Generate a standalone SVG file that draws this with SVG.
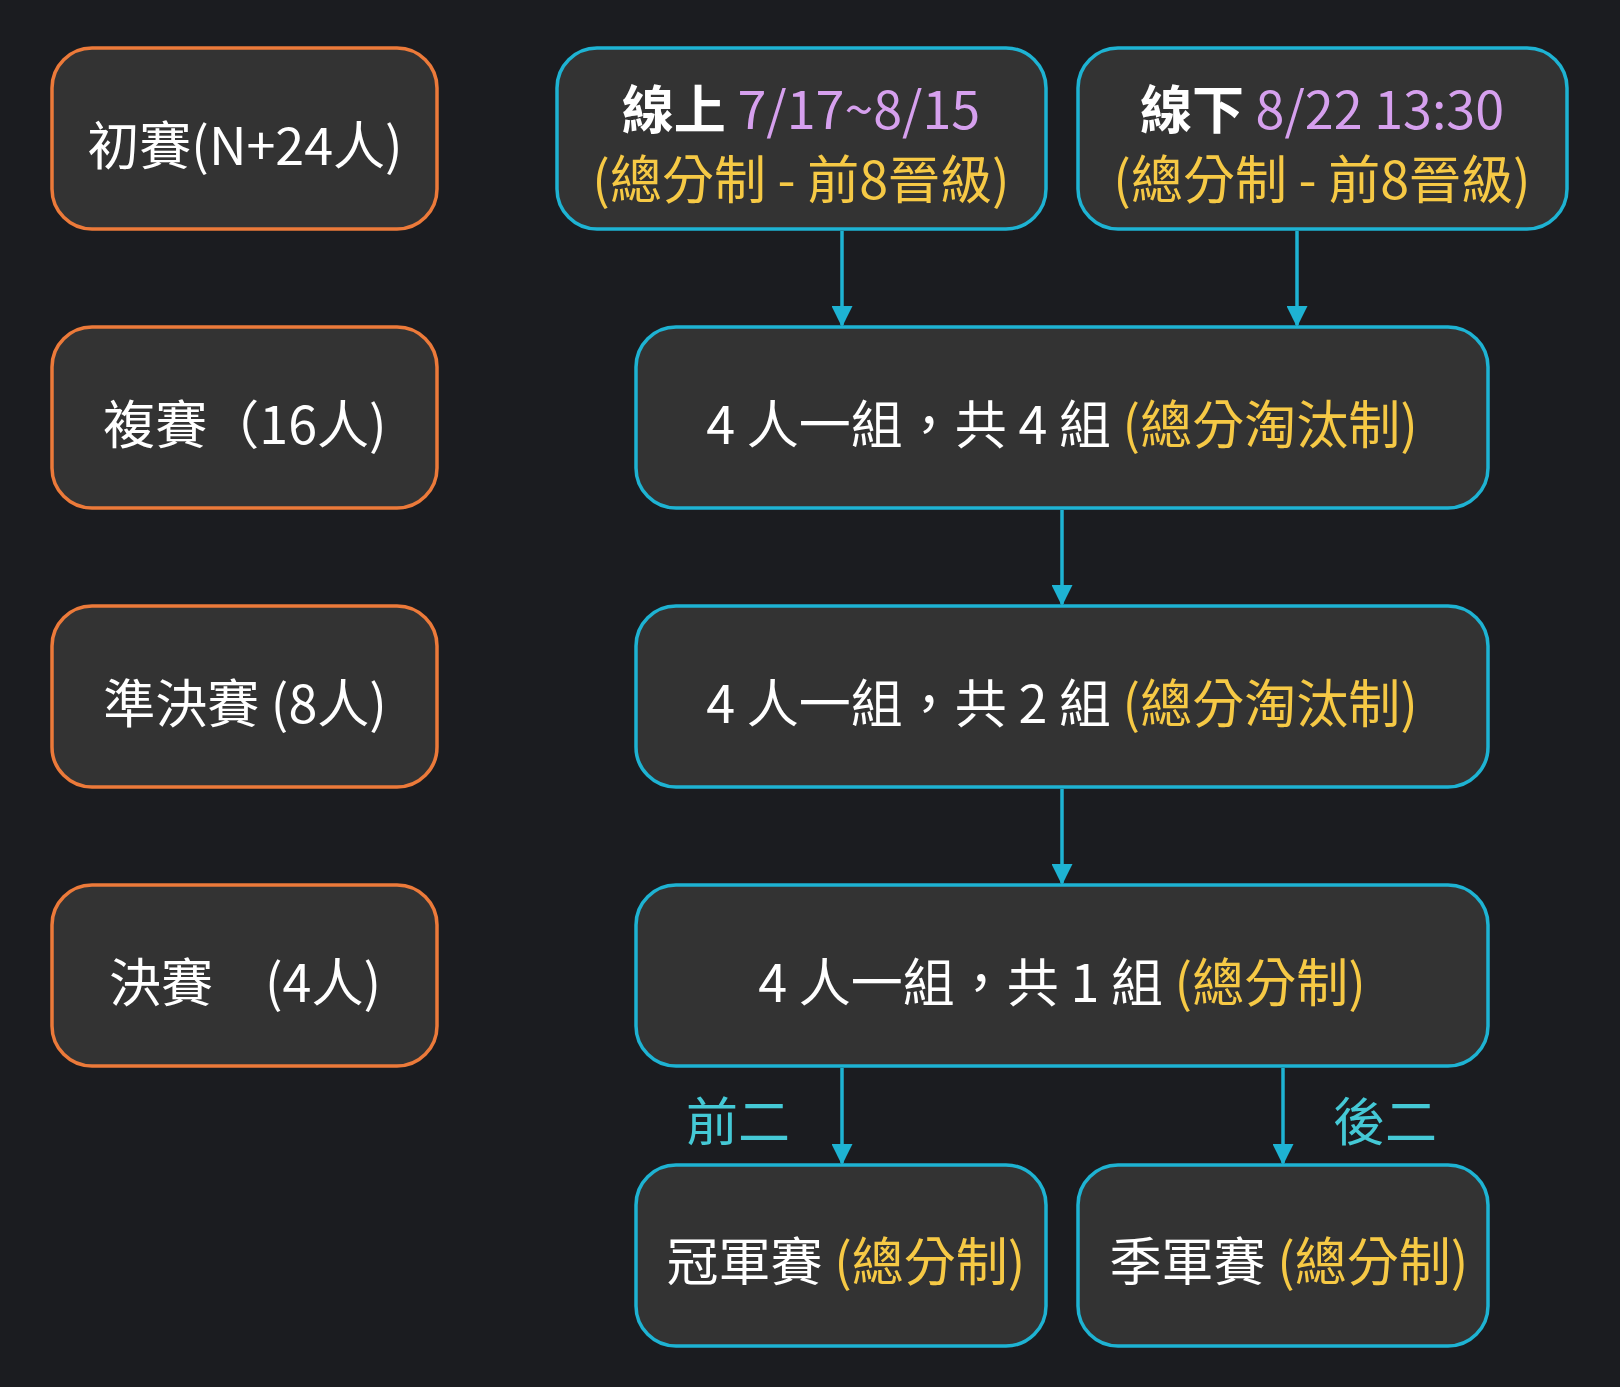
<svg xmlns="http://www.w3.org/2000/svg" width="1620" height="1387" viewBox="0 0 1620 1387">
<style>
.bg{fill:#1b1c20}
.o{fill:#333333;stroke:#ec7a3a;stroke-width:3.5}
.c{fill:#333333;stroke:#1eb3d3;stroke-width:3.5}
text{font-family:"Noto Sans CJK TC","Noto Sans",sans-serif;font-size:52px;fill:#ffffff;dominant-baseline:central;text-anchor:middle}
.y{fill:#f6c945}
.p{fill:#d6a0ee}
.b{font-weight:bold}
.l{fill:#45c9d6}
.cn line{stroke:#1eb3d3;stroke-width:3.5}
</style>
<defs><marker id="a" viewBox="0 0 10 10" refX="9" refY="5" markerWidth="6" markerHeight="6" orient="auto" markerUnits="strokeWidth"><path d="M0,0L10,5L0,10z" fill="#1eb3d3"/></marker></defs>
<rect class="bg" width="1620" height="1387"/>
<g id="n1"><rect class="o" x="52" y="48" width="385" height="181" rx="40"/><text x="245" y="142">初賽(N+24人)</text></g>
<g id="n2"><rect class="o" x="52" y="327" width="385" height="181" rx="40"/><text x="245" y="421">複賽（16人)</text></g>
<g id="n3"><rect class="o" x="52" y="606" width="385" height="181" rx="40"/><text x="245" y="700">準決賽 (8人)</text></g>
<g id="n4"><rect class="o" x="52" y="885" width="385" height="181" rx="40"/><text x="245" y="979">決賽　(4人)</text></g>
<g id="online"><rect class="c" x="557" y="48" width="489" height="181" rx="40"/><text x="801" y="106"><tspan class="b">線上</tspan> <tspan class="p">7/17~8/15</tspan></text><text x="801" y="176" class="y" font-size="46">(總分制 - 前8晉級)</text></g>
<g id="offline"><rect class="c" x="1078" y="48" width="489" height="181" rx="40"/><text x="1322" y="106"><tspan class="b">線下</tspan> <tspan class="p">8/22 13:30</tspan></text><text x="1322" y="176" class="y" font-size="46">(總分制 - 前8晉級)</text></g>
<g id="r2"><rect class="c" x="636" y="327" width="852" height="181" rx="40"/><text x="1062" y="421">4 人一組，共 4 組 <tspan class="y">(總分淘汰制)</tspan></text></g>
<g id="r3"><rect class="c" x="636" y="606" width="852" height="181" rx="40"/><text x="1062" y="700">4 人一組，共 2 組 <tspan class="y">(總分淘汰制)</tspan></text></g>
<g id="r4"><rect class="c" x="636" y="885" width="852" height="181" rx="40"/><text x="1062" y="979">4 人一組，共 1 組 <tspan class="y">(總分制)</tspan></text></g>
<g id="champ"><rect class="c" x="636" y="1165" width="410" height="181" rx="40"/><text x="846" y="1258">冠軍賽 <tspan class="y">(總分制)</tspan></text></g>
<g id="third"><rect class="c" x="1078" y="1165" width="410" height="181" rx="40"/><text x="1289" y="1258">季軍賽 <tspan class="y">(總分制)</tspan></text></g>
<g class="cn" id="connectors">
<line x1="842" y1="231" x2="842" y2="325" marker-end="url(#a)"/>
<line x1="1297" y1="231" x2="1297" y2="325" marker-end="url(#a)"/>
<line x1="1062" y1="510" x2="1062" y2="604" marker-end="url(#a)"/>
<line x1="1062" y1="789" x2="1062" y2="883" marker-end="url(#a)"/>
<line x1="842" y1="1068" x2="842" y2="1163" marker-end="url(#a)"/>
<line x1="1283" y1="1068" x2="1283" y2="1163" marker-end="url(#a)"/>
<text class="l" x="738" y="1118">前二</text>
<text class="l" x="1385" y="1118">後二</text>
</g>
</svg>
